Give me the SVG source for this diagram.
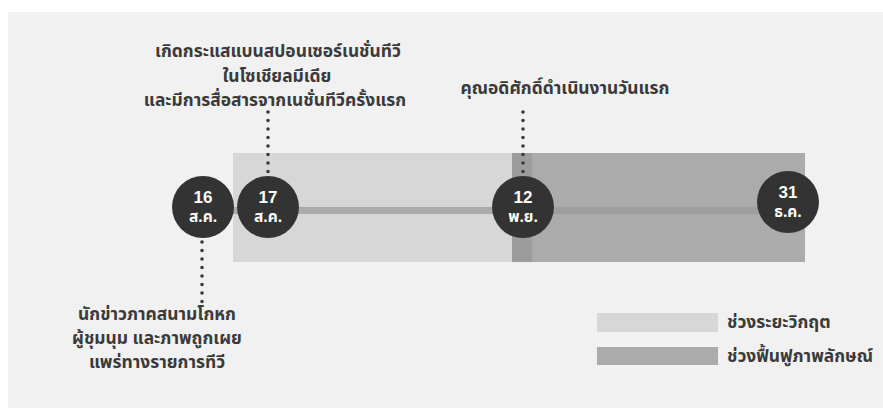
<svg xmlns="http://www.w3.org/2000/svg" width="883" height="408" viewBox="0 0 883 408">
<style>
.lbl{font-family:"Noto Sans Thai","Noto Sans","Liberation Sans",sans-serif;font-size:17.4px;font-weight:700;fill:#3a3a3a;text-anchor:middle}
.leg{font-family:"Noto Sans Thai","Noto Sans","Liberation Sans",sans-serif;font-size:17.4px;font-weight:700;fill:#3a3a3a}
.num{font-family:"Liberation Sans","Noto Sans",sans-serif;font-size:17px;font-weight:700;fill:#ffffff;text-anchor:middle}
.mon{font-family:"Noto Sans Thai","Noto Sans","Liberation Sans",sans-serif;font-size:15.5px;font-weight:700;fill:#ffffff;text-anchor:middle}
.node{fill:#333333}
.dot{fill:none;stroke:#3a3a3a;stroke-width:3.6;stroke-linecap:round;stroke-dasharray:0 8.5}
</style>
<rect x="0" y="0" width="883" height="408" fill="#ffffff"/>
<rect x="8" y="12" width="875" height="396" fill="#f1f1f1"/>
<g id="periods">
<rect x="233" y="153" width="279" height="109" fill="#d7d7d7"/>
<rect x="512" y="153" width="293" height="109" fill="#ababab"/>
<rect x="512" y="153" width="20" height="109" fill="#9c9c9c"/>
</g>
<g id="connectors">
<rect x="203" y="207" width="309" height="7" fill="#ababab"/>
<rect x="512" y="207" width="276" height="7" fill="#9e9e9e"/>
<line class="dot" x1="268" y1="112" x2="268" y2="172"/>
<line class="dot" x1="523" y1="112" x2="523" y2="172"/>
<line class="dot" x1="202" y1="242" x2="202" y2="302"/>
</g>
<g id="n16">
<circle class="node" cx="203" cy="207" r="31"/>
<text class="num" x="203" y="203">16</text>
<text class="mon" x="203" y="222">ส.ค.</text>
</g>
<g id="n17">
<circle class="node" cx="268" cy="207" r="31"/>
<text class="num" x="268" y="203">17</text>
<text class="mon" x="268" y="222">ส.ค.</text>
</g>
<g id="n12">
<circle class="node" cx="523" cy="207" r="31"/>
<text class="num" x="523" y="203">12</text>
<text class="mon" x="523" y="222">พ.ย.</text>
</g>
<g id="n31">
<circle class="node" cx="788" cy="202" r="31"/>
<text class="num" x="788" y="198">31</text>
<text class="mon" x="788" y="217">ธ.ค.</text>
</g>
<g id="label-17">
<text class="lbl" x="278" y="57">เกิดกระแสแบนสปอนเซอร์เนชั่นทีวี</text>
<text class="lbl" x="277" y="82">ในโซเชียลมีเดีย</text>
<text class="lbl" x="275" y="106">และมีการสื่อสารจากเนชั่นทีวีครั้งแรก</text>
</g>
<g id="label-12">
<text class="lbl" x="565" y="94">คุณอดิศักดิ์ดำเนินงานวันแรก</text>
</g>
<g id="label-16">
<text class="lbl" x="157" y="320">นักข่าวภาคสนามโกหก</text>
<text class="lbl" x="157" y="344">ผู้ชุมนุม และภาพถูกเผย</text>
<text class="lbl" x="157" y="368">แพร่ทางรายการทีวี</text>
</g>
<g id="legend">
<rect x="597" y="313" width="121" height="19" fill="#d7d7d7"/>
<text class="leg" x="727" y="328">ช่วงระยะวิกฤต</text>
<rect x="597" y="347" width="121" height="18" fill="#ababab"/>
<text class="leg" x="727" y="362">ช่วงฟื้นฟูภาพลักษณ์</text>
</g>
</svg>
